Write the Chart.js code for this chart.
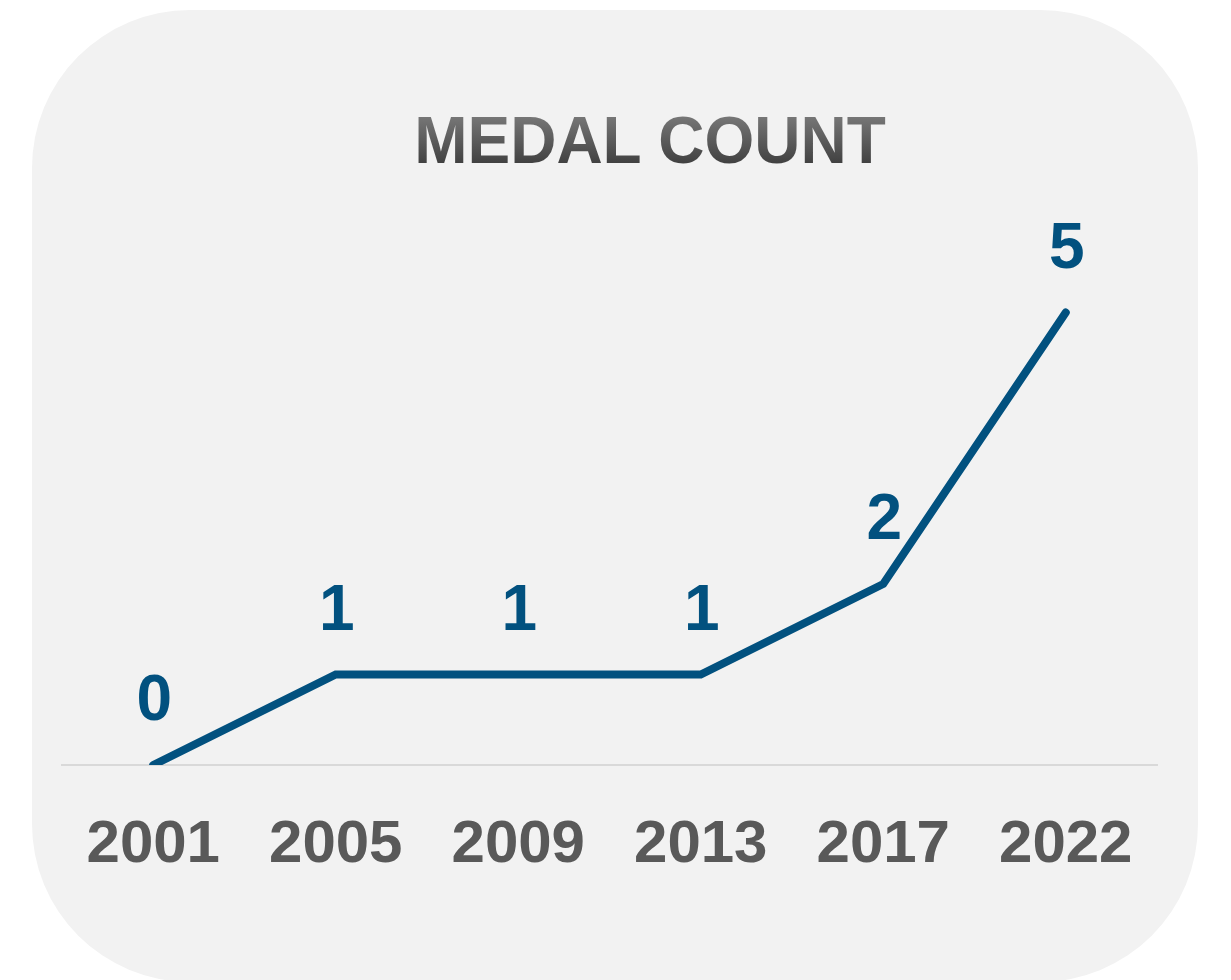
<!DOCTYPE html>
<html>
<head>
<meta charset="utf-8">
<script src="https://cdn.jsdelivr.net/npm/chart.js@4.4.1/dist/chart.umd.min.js"></script>
<style>
  html, body { margin: 0; padding: 0; background: #ffffff; }
  #wrap { position: relative; width: 1231px; height: 980px; overflow: hidden; }
  .panel {
    position: absolute; left: 32px; top: 10px; width: 1166px; height: 972px;
    background: #f2f2f2; border-radius: 158px;
  }
  .title {
    position: absolute; left: 0; top: 109px; width: 1300px; text-align: center;
    font: bold 64px "Liberation Sans", Arial, sans-serif; line-height: 1; margin: 0;
    transform: scaleY(1.05); transform-origin: 50% 80%;
    background: linear-gradient(to bottom, #828282 0%, #5c5c5c 50%, #353535 100%);
    -webkit-background-clip: text; background-clip: text; color: transparent;
  }
  #box { position: absolute; left: 0; top: 0; width: 1231px; height: 980px; }
</style>
</head>
<body>
<div id="wrap">
  <div class="panel"></div>
  <h1 class="title">MEDAL COUNT</h1>
  <div id="box"><canvas id="medals"></canvas></div>
</div>
<script>
// ── data ──
const years = ['2001', '2005', '2009', '2013', '2017', '2022'];
const medals = [0, 1, 1, 1, 2, 5];

const lineBlue = '#02517f';
const tickGrey = '#595959';

// value labels above each point
const valueLabels = {
  id: 'valueLabels',
  afterDatasetsDraw(chart) {
    const ctx = chart.ctx;
    const meta = chart.getDatasetMeta(0);
    ctx.save();
    ctx.font = 'bold 64px "Liberation Sans", Arial, sans-serif';
    ctx.fillStyle = lineBlue;
    ctx.textAlign = 'center';
    ctx.textBaseline = 'alphabetic';
    meta.data.forEach((pt, i) => {
      ctx.fillText(String(medals[i]), pt.x + 1, pt.y - 45);
    });
    ctx.restore();
  }
};

new Chart(document.getElementById('medals'), {
  type: 'line',
  data: {
    labels: years,
    datasets: [{
      data: medals,
      borderColor: lineBlue,
      borderWidth: 8,
      borderCapStyle: 'round',
      borderJoinStyle: 'miter',
      pointRadius: 0,
      tension: 0,
      fill: false
    }]
  },
  options: {
    responsive: true,
    maintainAspectRatio: false,
    animation: false,
    layout: { padding: { left: 62, right: 74, top: 222, bottom: 0 } },
    plugins: { legend: { display: false }, tooltip: { enabled: false }, title: { display: false } },
    scales: {
      x: {
        offset: true,
        grid: { display: false },
        border: { display: true, color: '#d9d9d9', width: 2 },
        ticks: {
          color: tickGrey,
          padding: 36,
          maxRotation: 0,
          font: { family: '"Liberation Sans", Arial, sans-serif', size: 60, weight: 'bold' }
        },
        afterFit(scale) { scale.height = 215; }
      },
      y: {
        display: false,
        min: 0,
        max: 6
      }
    }
  },
  plugins: [valueLabels]
});
</script>
</body>
</html>
